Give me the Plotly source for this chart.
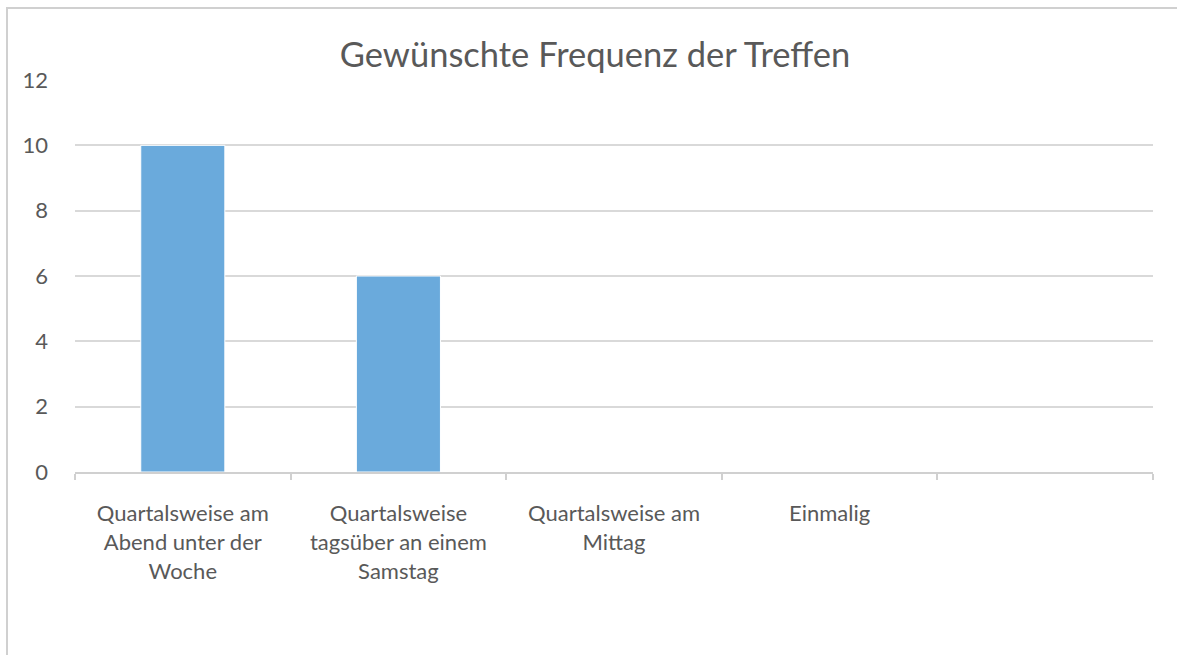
import plotly.graph_objects as go

categories = [
    "Quartalsweise am<br>Abend unter der<br>Woche",
    "Quartalsweise<br>tagsüber an einem<br>Samstag",
    "Quartalsweise am<br>Mittag",
    "Einmalig",
    " ",
]
values = [10, 6, 0, 0, None]
y_ticks = [0, 2, 4, 6, 8, 10, 12]

W, H = 1177, 655
L, R, T, B = 75, 24, 80, 183
pw, ph = W - L - R, H - T - B

def px_x(px):
    return (px - L) / pw

def px_y(py):
    return (H - B - py) / ph

fig = go.Figure()
fig.add_trace(go.Bar(
    x=categories, y=values,
    marker=dict(color="#6AAADC", line=dict(color="#FFFFFF", width=1)),
    hoverinfo="skip",
))

fig.update_layout(
    width=W, height=H,
    margin=dict(l=L, r=R, t=T, b=B),
    paper_bgcolor="white", plot_bgcolor="white",
    bargap=0.61,
    showlegend=False,
    font=dict(family="Lato, Open Sans, sans-serif", color="#595959"),
    title=dict(
        text="Gewünschte Frequenz der Treffen",
        x=px_x(595), xref="paper", xanchor="center",
        y=1 - 55 / H, yanchor="middle",
        font=dict(size=34.5, color="#595959"),
    ),
    shapes=[dict(
        type="rect", xref="paper", yref="paper",
        x0=px_x(7), x1=px_x(W + 20), y0=px_y(H + 20), y1=px_y(8),
        line=dict(color="#D0D0D0", width=2), layer="below",
    )],
)

fig.update_xaxes(
    type="category",
    showgrid=False,
    showline=True, linecolor="#D0D0D0", linewidth=2,
    ticks="outside", tickson="boundaries", ticklen=6, tickcolor="#D0D0D0", tickwidth=2,
    tickfont=dict(size=22, color="#595959"),
    ticklabelstandoff=21,
    fixedrange=True,
)
fig.update_yaxes(
    range=[0, 12], tickvals=y_ticks,
    showgrid=True, gridcolor="#D9D9D9", gridwidth=2,
    zeroline=False, showline=False,
    tickfont=dict(size=22, color="#595959"),
    ticklabelstandoff=26,
    fixedrange=True,
)

fig.write_html(
    "out.html",
    config={"displayModeBar": False},
    post_script="document.body.style.margin='0';",
)
